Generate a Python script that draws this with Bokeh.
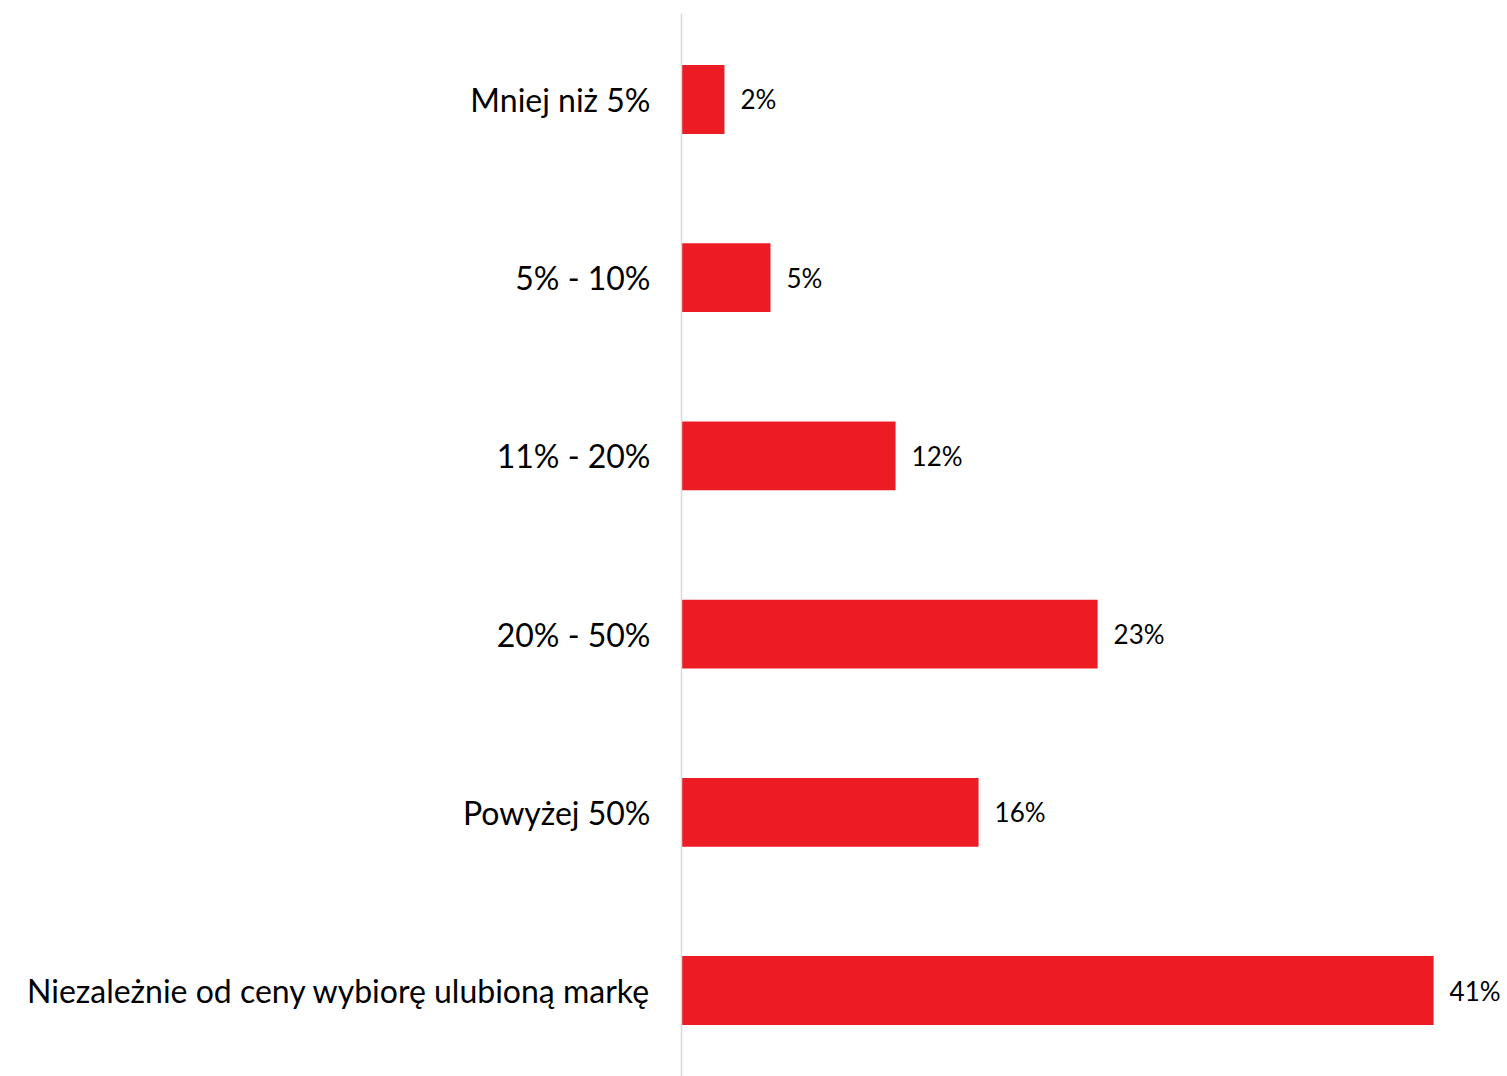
from bokeh.plotting import figure
from bokeh.models import ColumnDataSource, FactorRange, Range1d
from bokeh.embed import file_html
from bokeh.resources import INLINE
from bokeh.core.properties import value

categories = [
    "Mniej niż 5%",
    "5% - 10%",
    "11% - 20%",
    "20% - 50%",
    "Powyżej 50%",
    "Niezależnie od ceny wybiorę ulubioną markę",
]
shares = [2.36, 4.89, 11.76, 22.86, 16.32, 41.32]
share_labels = ["2%", "5%", "12%", "23%", "16%", "41%"]

FONT = "Lato"
RED = "#ED1C24"

src = ColumnDataSource(dict(cat=categories, val=shares, lab=share_labels))

p = figure(
    width=1507, height=1076,
    y_range=FactorRange(factors=list(reversed(categories)),
                        range_padding=-0.0175, range_padding_units="absolute"),
    x_range=Range1d(0, 45.38),
    output_backend="svg", toolbar_location=None,
    x_axis_location=None,
    min_border_left=681, min_border_right=0,
    min_border_top=13, min_border_bottom=0,
)
p.outline_line_color = None
p.background_fill_color = "white"
p.border_fill_color = "white"
p.xgrid.visible = False
p.ygrid.visible = False

p.hbar(y="cat", right="val", left=0, height=0.386, source=src,
       fill_color=RED, line_color=None)

p.text(x="val", y="cat", text="lab", source=src, x_offset=16,
       text_align="left", text_baseline="middle",
       text_font=value(FONT), text_font_size="26px", text_color="#000000")

ax = p.yaxis[0]
ax.axis_line_color = "#D9D9D9"
ax.axis_line_width = 1.5
ax.major_tick_line_color = None
ax.minor_tick_line_color = None
ax.major_tick_out = 0
ax.major_tick_in = 0
ax.major_label_standoff = 31
ax.major_label_text_font = FONT
ax.major_label_text_font_size = "32px"
ax.major_label_text_color = "#000000"

open("out.html", "w").write(file_html(p, INLINE))
